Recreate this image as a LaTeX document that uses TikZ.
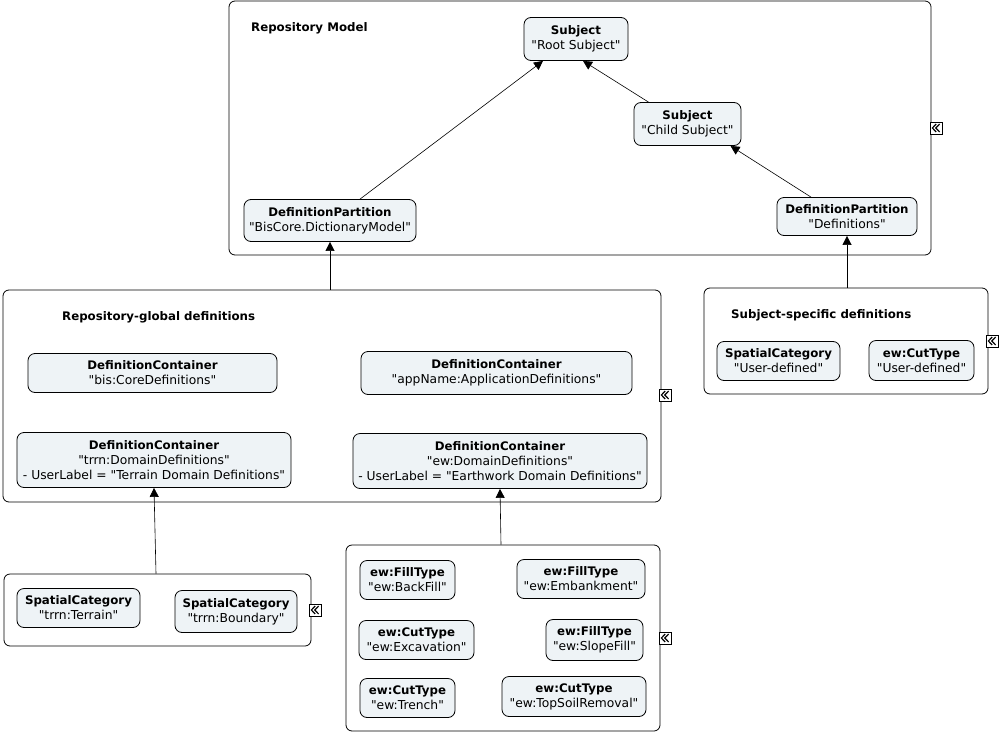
\documentclass[tikz,border=0pt]{standalone}
\usepackage{fontspec}
\setmainfont{DejaVu Sans}[Ligatures=TeXReset]
\usetikzlibrary{arrows.meta}
\definecolor{nodefill}{HTML}{EEF3F6}
\newcommand{\hd}[1]{{\fontsize{11.8}{15}\selectfont\bfseries #1}}
\tikzset{
  item/.style={draw=black, line width=0.8pt, rounded corners=7pt, fill=nodefill, align=center, inner sep=0pt, font=\fontsize{12.3}{15}\selectfont},
  container/.style={draw=black, line width=0.8pt, rounded corners=6pt, inner sep=0pt},
  title/.style={anchor=west, inner sep=0pt, font=\fontsize{11.8}{15}\selectfont\bfseries},
  arr/.style={draw=black, line width=0.6pt, -{Triangle[length=9pt,width=9pt]}},
  collapse/.style={draw=black, line width=0.7pt, fill=white, minimum width=12pt, minimum height=12pt, inner sep=0pt,
    path picture={
      \draw[line width=1.2pt] ([shift={(0.2,-4)}]path picture bounding box.center) -- ([shift={(-3.6,0)}]path picture bounding box.center) -- ([shift={(0.2,4)}]path picture bounding box.center);
      \draw[line width=1.2pt] ([shift={(3.6,-4)}]path picture bounding box.center) -- ([shift={(-0.2,0)}]path picture bounding box.center) -- ([shift={(3.6,4)}]path picture bounding box.center);
    }}
}
\begin{document}
\begin{tikzpicture}[x=1pt,y=-1pt]
\useasboundingbox (0,0) rectangle (1001,736);
% containers
\node[container, minimum width=702pt, minimum height=254pt] (repo) at (580,128) {};
\node[container, minimum width=658pt, minimum height=212pt] (global) at (332,396) {};
\node[container, minimum width=284pt, minimum height=106pt] (ss) at (846,341) {};
\node[container, minimum width=307pt, minimum height=72pt] (terr) at (157.5,610) {};
\node[container, minimum width=314pt, minimum height=186pt] (ew) at (503,638) {};
% titles
\node[title] (t1) at (251,28.5) {Repository Model};
\node[title] (t2) at (62,317.5) {Repository-global definitions};
\node[title] (t3) at (731,315.5) {Subject-specific definitions};
% items
\node[item, minimum width=104pt, minimum height=43pt] (root) at (576,39) {\hd{Subject}\\"Root Subject"};
\node[item, minimum width=107pt, minimum height=43pt] (child) at (687.5,124) {\hd{Subject}\\"Child Subject"};
\node[item, minimum width=172pt, minimum height=42pt] (bisp) at (330,220.5) {\hd{DefinitionPartition}\\"BisCore.DictionaryModel"};
\node[item, minimum width=140pt, minimum height=38pt] (defp) at (847,216.5) {\hd{DefinitionPartition}\\"Definitions"};
\node[item, minimum width=249pt, minimum height=39pt] (core) at (152.5,373) {\hd{DefinitionContainer}\\"bis:CoreDefinitions"};
\node[item, minimum width=271pt, minimum height=43pt] (app) at (496.5,373) {\hd{DefinitionContainer}\\"appName:ApplicationDefinitions"};
\node[item, minimum width=274pt, minimum height=55pt] (trrn) at (154,460) {\hd{DefinitionContainer}\\"trrn:DomainDefinitions"\\- UserLabel = "Terrain Domain Definitions"};
\node[item, minimum width=294pt, minimum height=55pt] (ewdc) at (500,461) {\hd{DefinitionContainer}\\"ew:DomainDefinitions"\\- UserLabel = "Earthwork Domain Definitions"};
\node[item, minimum width=123pt, minimum height=39pt] (ssSC) at (778.5,361) {\hd{SpatialCategory}\\"User-defined"};
\node[item, minimum width=105pt, minimum height=40pt] (ssCT) at (921.5,360.5) {\hd{ew:CutType}\\"User-defined"};
\node[item, minimum width=123pt, minimum height=39pt] (tTer) at (78.5,608) {\hd{SpatialCategory}\\"trrn:Terrain"};
\node[item, minimum width=122pt, minimum height=42pt] (tBnd) at (236,611.5) {\hd{SpatialCategory}\\"trrn:Boundary"};
\node[item, minimum width=95pt, minimum height=39pt] (eBack) at (407.5,580) {\hd{ew:FillType}\\"ew:BackFill"};
\node[item, minimum width=128pt, minimum height=39pt] (eEmb) at (581,579) {\hd{ew:FillType}\\"ew:Embankment"};
\node[item, minimum width=115pt, minimum height=39pt] (eExc) at (416.5,640) {\hd{ew:CutType}\\"ew:Excavation"};
\node[item, minimum width=97pt, minimum height=41pt] (eSlope) at (594.5,640) {\hd{ew:FillType}\\"ew:SlopeFill"};
\node[item, minimum width=95pt, minimum height=39pt] (eTrench) at (407.5,698) {\hd{ew:CutType}\\"ew:Trench"};
\node[item, minimum width=144pt, minimum height=40pt] (eTop) at (574,696.5) {\hd{ew:CutType}\\"ew:TopSoilRemoval"};
% collapse icons
\node[collapse] (c1) at (936,128) {};
\node[collapse] (c2) at (665,395) {};
\node[collapse] (c3) at (992,341) {};
\node[collapse] (c4) at (315,610) {};
\node[collapse] (c5) at (665,638) {};
% arrows
\draw[arr] ([xshift=30pt]bisp.north) -- ([xshift=-33pt]root.south);
\draw[arr] ([xshift=-39pt]child.north) -- ([xshift=7pt]root.south);
\draw[arr] ([xshift=-36pt]defp.north) -- ([xshift=43pt]child.south);
\draw[arr] ([xshift=-2pt]global.north) -- (bisp.south);
\draw[arr] ([xshift=1pt]ss.north) -- (defp.south);
\draw[arr] ([xshift=-1.5pt]terr.north) -- (trrn.south);
\draw[arr] ([xshift=-2pt]ew.north) -- (ewdc.south);
\end{tikzpicture}
\end{document}
